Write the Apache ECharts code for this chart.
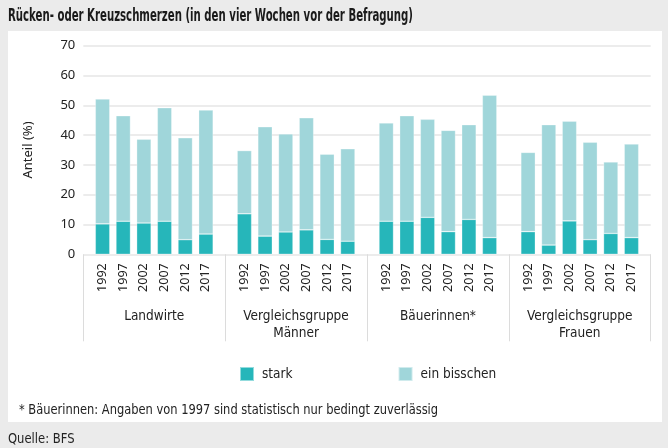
<!DOCTYPE html>
<html>
<head>
<meta charset="utf-8">
<script src="https://cdn.jsdelivr.net/npm/echarts@6/dist/echarts.min.js"></script>
<style>
html,body{margin:0;padding:0;background:#ebebeb;}
#c{width:668px;height:448px;}
</style>
</head>
<body>
<div id="c"></div>
<script>
// ---- data ----
const years = ['1992','1997','2002','2007','2012','2017'];
const groups = ['Landwirte','Vergleichsgruppe\nMänner','Bäuerinnen*','Vergleichsgruppe\nFrauen'];
const yTicks = [0,10,20,30,40,50,60,70];
const starkLandwirte = [10.2, 11.1, 10.5, 11.1, 4.9, 6.8];
const bisschenLandwirte = [41.9, 35.4, 28.1, 38.1, 34.2, 41.6];
const starkMaenner = [13.6, 6.1, 7.5, 8.2, 5.0, 4.4];
const bisschenMaenner = [21.2, 36.7, 32.9, 37.6, 28.6, 31.0];
const starkBaeuerinnen = [11.1, 11.1, 12.4, 7.6, 11.7, 5.6];
const bisschenBaeuerinnen = [33.0, 35.4, 32.9, 34.0, 31.8, 47.8];
const starkFrauen = [7.6, 3.1, 11.2, 4.9, 7.0, 5.6];
const bisschenFrauen = [26.6, 40.4, 33.5, 32.7, 24.0, 31.4];
const seriesNames = ['stark','ein bisschen'];
const titleText = 'Rücken- oder Kreuzschmerzen (in den vier Wochen vor der Befragung)';
const footnoteText = '* Bäuerinnen: Angaben von 1997 sind statistisch nur bedingt zuverlässig';
const sourceText = 'Quelle: BFS';

const starkAll = [starkLandwirte, starkMaenner, starkBaeuerinnen, starkFrauen];
const bisschenAll = [bisschenLandwirte, bisschenMaenner, bisschenBaeuerinnen, bisschenFrauen];

// ---- layout / style ----
const W = 668, H = 448;
const plotL = 83.3, plotR = 650.7, plotT = 45.7, plotB = 254.3;
const groupW = (plotR - plotL) / 4;
const pad = 8.9;
const colStark = '#26b6ba';
const colBiss = '#a0d6da';
const condFont = '"DejaVu Sans Condensed","Noto Sans",sans-serif';
const numFont = '"Noto Sans",sans-serif';
const textCol = '#222';

// fit title to the reference width using a narrowing scale
const titleSize = 18, titleTargetW = 405;
const mctx = document.createElement('canvas').getContext('2d');
mctx.font = 'bold ' + titleSize + 'px ' + condFont;
const titleScale = Math.min(1, titleTargetW / mctx.measureText(titleText).width);

const grids = [{left: plotL, right: W - plotR, top: plotT, bottom: H - plotB}];
const xAxes = [{
  gridIndex: 0, type: 'category', data: groups, position: 'bottom',
  axisLine: {show: false},
  axisTick: {show: true, length: 87, lineStyle: {color: '#dcdcdc', width: 1}},
  axisLabel: {interval: 0, margin: 54, fontFamily: condFont, fontSize: 13.5, color: textCol, lineHeight: 17, verticalAlign: 'top'},
  splitLine: {show: false}
}];
const yAxes = [{
  gridIndex: 0, type: 'value', min: yTicks[0], max: yTicks[yTicks.length-1], interval: yTicks[1]-yTicks[0],
  name: 'Anteil (%)', nameLocation: 'middle', nameGap: 49, nameRotate: 90,
  nameTextStyle: {fontFamily: numFont, fontSize: 13, color: textCol},
  axisLine: {show: false}, axisTick: {show: false},
  axisLabel: {margin: 8, fontFamily: numFont, fontSize: 13, color: textCol},
  splitLine: {show: true, lineStyle: {color: '#e6e6e6', width: 1.5}}
}];
const series = [];
for (let g = 0; g < 4; g++) {
  const gl = plotL + g * groupW + pad;
  const gr = plotL + (g + 1) * groupW - pad;
  grids.push({left: gl, right: W - gr, top: plotT, bottom: H - plotB});
  xAxes.push({
    gridIndex: g + 1, type: 'category', data: years,
    axisLine: {show: false}, axisTick: {show: false},
    axisLabel: {rotate: 90, margin: 9, fontFamily: numFont, fontSize: 12.5, color: textCol, interval: 0}
  });
  yAxes.push({
    gridIndex: g + 1, type: 'value', min: yTicks[0], max: yTicks[yTicks.length-1], interval: yTicks[1]-yTicks[0],
    show: false, splitLine: {show: false}
  });
  series.push({
    name: seriesNames[0], type: 'bar', stack: 'g' + g, xAxisIndex: g + 1, yAxisIndex: g + 1,
    data: starkAll[g], barWidth: '70%',
    itemStyle: {color: colStark, borderColor: 'rgba(255,255,255,0.5)', borderWidth: 0.6}
  });
  series.push({
    name: seriesNames[1], type: 'bar', stack: 'g' + g, xAxisIndex: g + 1, yAxisIndex: g + 1,
    data: bisschenAll[g], barWidth: '70%',
    itemStyle: {color: colBiss, borderColor: 'rgba(255,255,255,0.5)', borderWidth: 0.6}
  });
}

const chart = echarts.init(document.getElementById('c'), null, {renderer: 'canvas'});
chart.setOption({
  backgroundColor: '#ebebeb',
  animation: false,
  graphic: [
    {type: 'rect', z: -10, silent: true, shape: {x: 8, y: 31, width: 654, height: 391}, style: {fill: '#ffffff'}},
    {type: 'text', x: 8, y: 16, scaleX: titleScale, silent: true,
     style: {text: titleText, fontFamily: condFont, fontSize: titleSize, fontWeight: 'bold', fill: '#1a1a1a', textVerticalAlign: 'middle'}},
    {type: 'text', x: 19, y: 410, scaleX: 0.91, silent: true,
     style: {text: footnoteText, fontFamily: condFont, fontSize: 14, fill: textCol, textVerticalAlign: 'middle'}},
    {type: 'text', x: 8, y: 439, scaleX: 0.92, silent: true,
     style: {text: sourceText, fontFamily: condFont, fontSize: 14, fill: textCol, textVerticalAlign: 'middle'}}
  ],
  legend: {
    data: seriesNames, left: 239, top: 366, padding: 0, itemWidth: 14, itemHeight: 14, itemGap: 105,
    icon: 'rect', textStyle: {fontFamily: condFont, fontSize: 13.5, color: textCol, padding: [0,0,0,3]}
  },
  grid: grids, xAxis: xAxes, yAxis: yAxes, series: series
});
</script>
</body>
</html>
